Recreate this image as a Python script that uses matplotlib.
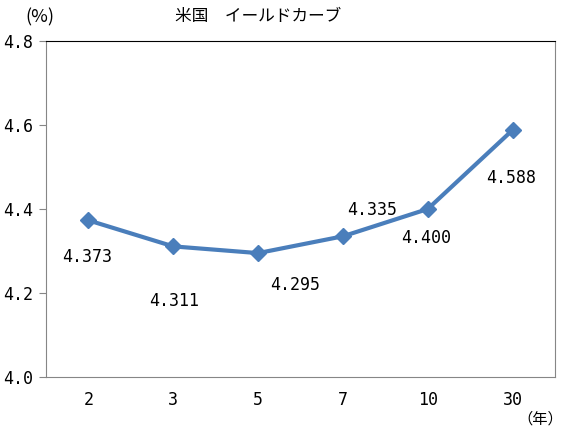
import matplotlib
matplotlib.use("Agg")
from matplotlib import pyplot as plt

plt.rcParams['font.family'] = ['Noto Sans CJK JP', 'DejaVu Sans']

# data
maturities = ["2", "3", "5", "7", "10", "30"]
yields = [4.373, 4.311, 4.295, 4.335, 4.400, 4.588]
yticks = [4.0, 4.2, 4.4, 4.6, 4.8]
ytick_labels = ["4.0", "4.2", "4.4", "4.6", "4.8"]

# label offsets in pixels (styling)
label_offsets = [(-1, -37), (1, -55), (37, -32), (29, 26), (-2, -29), (-1, -48)]

NUM_FONT = ['DejaVu Sans Mono']


def main():
    fig = plt.figure(figsize=(5.69, 4.33), dpi=100)
    ax = fig.add_axes([46 / 569, 1 - 377 / 433, 509 / 569, 336 / 433])

    x = list(range(len(maturities)))
    ax.plot(x, yields, color="#4A7EBB", linewidth=3, marker="D",
            markersize=8, zorder=3)

    for xi, v, (dx, dy) in zip(x, yields, label_offsets):
        ax.annotate(f"{v:.3f}", (xi, v), xytext=(dx, dy),
                    textcoords="offset pixels", ha="center", va="center",
                    fontsize=12, family=NUM_FONT)

    ax.set_xlim(-0.5, len(maturities) - 0.5)
    ax.set_ylim(4.0, 4.8)
    ax.set_xticks(x)
    ax.set_xticklabels(maturities, fontsize=12, family=NUM_FONT)
    ax.set_yticks(yticks)
    ax.set_yticklabels(ytick_labels, fontsize=12, family=NUM_FONT)
    ax.tick_params(axis="x", length=0, pad=10)
    ax.tick_params(axis="y", length=5, color="#868686", pad=4)

    for side in ["left", "right", "bottom"]:
        ax.spines[side].set_color("#868686")
    ax.spines["top"].set_color("black")

    fig.text(258 / 569, 1 - 17 / 433, "米国　イールドカーブ", ha="center",
             va="center", fontsize=12)
    fig.text(40 / 569, 1 - 17 / 433, "(%)", ha="center", va="center",
             fontsize=13)
    fig.text(540 / 569, 1 - 419 / 433, "（年）", ha="center", va="center",
             fontsize=11)

    fig.savefig("out.png", dpi=100)


if __name__ == "__main__":
    main()
